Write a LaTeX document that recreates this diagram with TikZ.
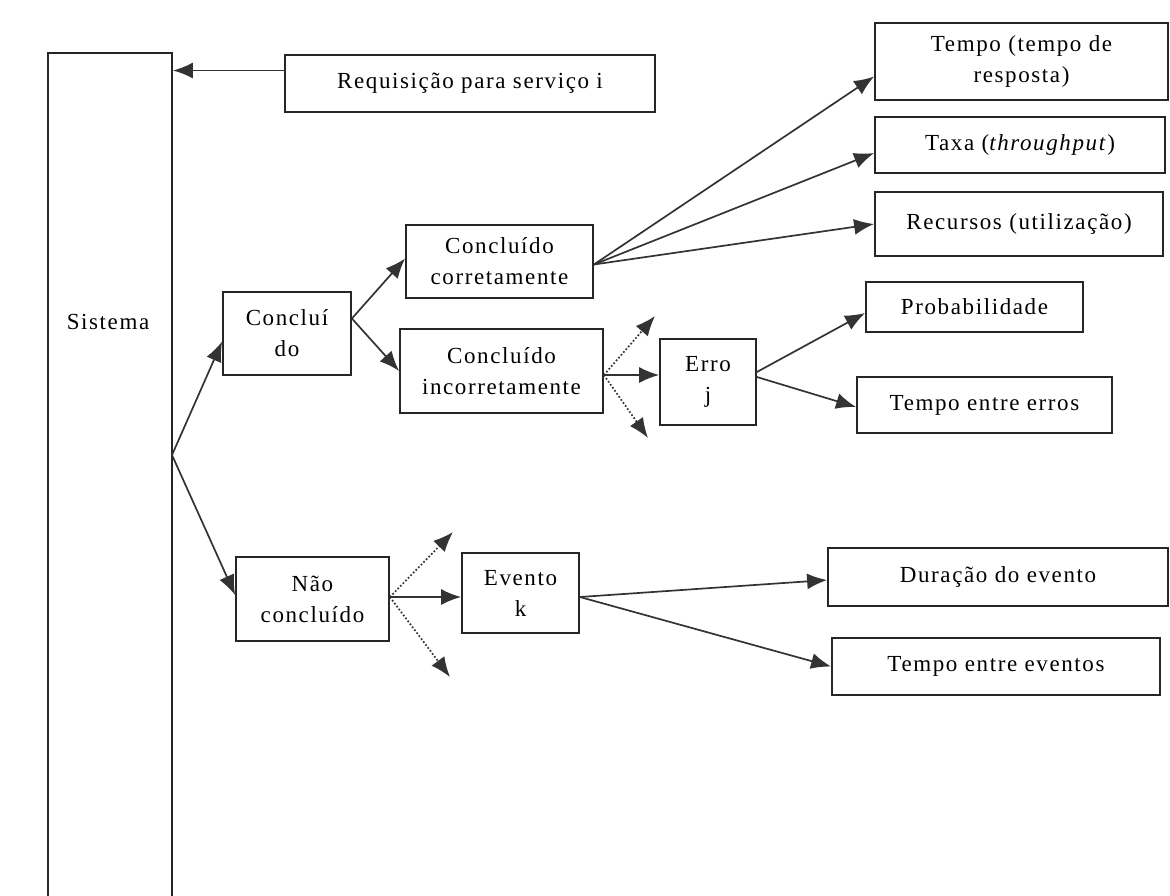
\documentclass[tikz,border=0pt]{standalone}
\usepackage{fontspec}
\setmainfont{Liberation Serif}[LetterSpace=7]
\usetikzlibrary{arrows.meta}
\begin{document}
\begin{tikzpicture}[x=1pt,y=-1pt,
  box/.style={draw=black!85, line width=1.8pt, fill=white, align=center,
              inner sep=0pt, font=\fontsize{23}{31}\selectfont},
  lbl/.style={font=\fontsize{23}{31}\selectfont},
  conn/.style={line width=1.7pt, draw=black!80, -{Latex[length=20pt,width=16pt]}},
  dots/.style={conn, dotted}]
\useasboundingbox (0,0) rectangle (1170,895);
\clip (0,0) rectangle (1170,895);

% main system column (runs off the bottom)
\node[box, minimum width=124, minimum height=907] (sist) at (110,506.5) {};
\node[lbl] (sistlbl) at (108,322) {Sistema};

% boxes
\node[box, minimum width=370, minimum height=57] (req) at (470,83.5) {Requisição para serviço i};
\node[box, minimum width=128, minimum height=83] (conc) at (287,333.5) {Concluí\\do};
\node[box, minimum width=153, minimum height=84] (nao) at (312.5,599) {Não\\concluído};
\node[box, minimum width=187, minimum height=73] (ccorr) at (499.5,261.5) {Concluído\\corretamente};
\node[box, minimum width=203, minimum height=84] (cinc) at (501.5,371) {Concluído\\incorretamente};
\node[box, minimum width=96, minimum height=86] (erro) at (708,382) {Erro\\j};
\node[box, minimum width=293, minimum height=77] (tempo) at (1021.5,61.5) {Tempo (tempo de\\resposta)};
\node[box, minimum width=290, minimum height=56] (taxa) at (1020,145) {Taxa (\textit{throughput})};
\node[box, minimum width=288, minimum height=64] (recur) at (1019,224) {Recursos (utilização)};
\node[box, minimum width=217, minimum height=50] (prob) at (974.5,307) {Probabilidade};
\node[box, minimum width=255, minimum height=56] (terr) at (984.5,405) {Tempo entre erros};
\node[box, minimum width=117, minimum height=80] (evento) at (520.5,593) {Evento\\k};
\node[box, minimum width=340, minimum height=58] (dur) at (998,577) {Duração do evento};
\node[box, minimum width=328, minimum height=57] (tev) at (996,666.5) {Tempo entre eventos};

% free ends of the dotted branches
\coordinate (fork) at (172,455);
\coordinate (iup) at (655,316);
\coordinate (idn) at (648,438);
\coordinate (nup) at (453,532);
\coordinate (ndn) at (450,677);

% connectors
\draw[conn] ([yshift=13pt]req.west) -- ([yshift=13pt]req.west -| sist.east);
\draw[conn] (fork) -- ([yshift=-8pt]conc.west);
\draw[conn] (fork) -- ([yshift=4pt]nao.west);
\draw[conn] ([yshift=15pt]conc.east) -- ([yshift=3pt]ccorr.west);
\draw[conn] ([yshift=15pt]conc.east) -- (cinc.west);
\draw[conn] ([yshift=-3pt]ccorr.east) -- ([yshift=-15pt]tempo.west);
\draw[conn] ([yshift=-3pt]ccorr.east) -- ([yshift=-8pt]taxa.west);
\draw[conn] ([yshift=-3pt]ccorr.east) -- (recur.west);
\draw[conn] ([yshift=-4pt]cinc.east) -- ([yshift=-4pt]cinc.east -| erro.west);
\draw[dots] ([yshift=-4pt]cinc.east) -- (iup);
\draw[dots] ([yshift=-4pt]cinc.east) -- (idn);
\draw[conn] ([yshift=10pt]erro.east) -- ([yshift=-6pt]prob.west);
\draw[conn] ([yshift=5pt]erro.east) -- ([yshift=-2pt]terr.west);
\draw[conn] ([yshift=2pt]nao.east) -- ([yshift=2pt]nao.east -| evento.west);
\draw[dots] ([yshift=2pt]nao.east) -- (nup);
\draw[dots] ([yshift=2pt]nao.east) -- (ndn);
\draw[conn] ([yshift=-4pt]evento.east) -- ([yshift=-3pt]dur.west);
\draw[conn] ([yshift=-4pt]evento.east) -- (tev.west);
\end{tikzpicture}
\end{document}
